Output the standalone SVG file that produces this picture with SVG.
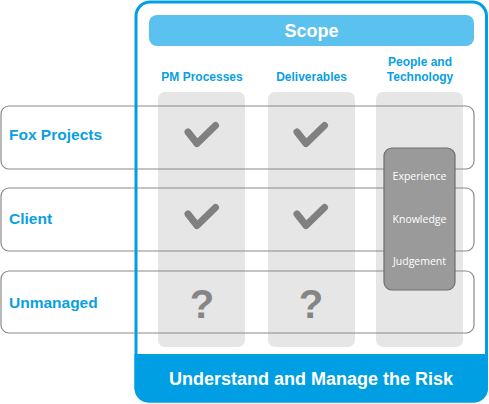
<svg xmlns="http://www.w3.org/2000/svg" xmlns:xlink="http://www.w3.org/1999/xlink" width="489" height="404" viewBox="0 0 489 404">
<style>
.row{fill:none;stroke:#8a8a8a;stroke-width:1.2}
.col{fill:#e6e6e6}
.rowlbl{font-family:"Liberation Sans",Arial,sans-serif;font-weight:bold;font-size:15.5px;fill:#0a9fe0}
.hdr{font-family:"Liberation Sans",Arial,sans-serif;font-weight:bold;font-size:12px;fill:#0a9fe0;text-anchor:middle}
.big{font-family:"Liberation Sans",Arial,sans-serif;font-weight:bold;font-size:18px;fill:#ffffff;text-anchor:middle}
.q{font-family:"Liberation Sans",Arial,sans-serif;font-weight:bold;font-size:40px;fill:#858585;text-anchor:middle}
.sm{font-family:"Open Sans","DejaVu Sans",sans-serif;font-size:10.5px;fill:#ffffff;text-anchor:middle}
</style>
<defs>
<path id="check" d="M188,132 L197,143.5 L215.5,125.5" fill="none" stroke="#808080" stroke-width="7" stroke-linecap="round" stroke-linejoin="round"/>
</defs>
<g id="frame-bg">
<rect x="136" y="2" width="350.5" height="399" rx="14" fill="#ffffff"/>
</g>
<g id="columns">
<rect class="col" x="158" y="92" width="87" height="255" rx="7"/>
<rect class="col" x="268" y="92" width="87" height="255" rx="7"/>
<rect class="col" x="376" y="92" width="87" height="255" rx="7"/>
</g>
<g id="row-fox">
<rect class="row" x="1" y="106" width="473" height="63" rx="8"/>
<text class="rowlbl" x="9" y="140">Fox Projects</text>
</g>
<g id="row-client">
<rect class="row" x="1" y="188" width="473" height="63" rx="8"/>
<text class="rowlbl" x="9" y="224">Client</text>
</g>
<g id="row-unmanaged">
<rect class="row" x="1" y="271" width="473" height="62" rx="8"/>
<text class="rowlbl" x="9" y="308">Unmanaged</text>
</g>
<g id="marks">
<use xlink:href="#check"/>
<use xlink:href="#check" transform="translate(109,0)"/>
<use xlink:href="#check" transform="translate(0,82)"/>
<use xlink:href="#check" transform="translate(109,82)"/>
<text class="q" x="202" y="318">?</text>
<text class="q" x="311" y="318">?</text>
</g>
<g id="people-box">
<rect x="384" y="148" width="71" height="142" rx="8" fill="#9a9a9a" stroke="#6e6e6e" stroke-width="1.2"/>
<text class="sm" x="419.5" y="180">Experience</text>
<text class="sm" x="419.5" y="223">Knowledge</text>
<text class="sm" x="419.5" y="265">Judgement</text>
</g>
<g id="frame">
<rect x="136" y="2" width="350.5" height="399" rx="14" fill="none" stroke="#009fe3" stroke-width="3"/>
<path d="M134.5,354 H488 V388 A14,14 0 0 1 474,402.5 H148.5 A14,14 0 0 1 134.5,388.5 Z" fill="#009fe3"/>
<text class="big" x="311" y="385">Understand and Manage the Risk</text>
</g>
<g id="scope">
<rect x="149" y="15" width="325" height="31" rx="8" fill="#5bc2f0"/>
<text class="big" x="311.5" y="37">Scope</text>
</g>
<g id="headers">
<text class="hdr" x="202" y="81">PM Processes</text>
<text class="hdr" x="311.5" y="81">Deliverables</text>
<text class="hdr" x="420" y="66">People and</text>
<text class="hdr" x="420" y="81">Technology</text>
</g>
</svg>
